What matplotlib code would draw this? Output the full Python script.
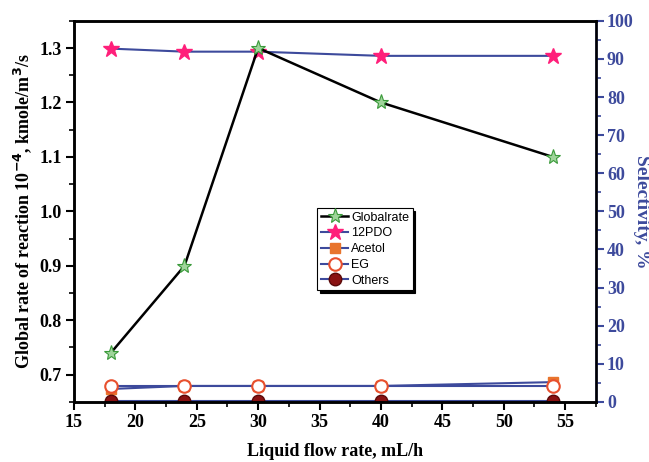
import matplotlib
matplotlib.use("Agg")
import matplotlib.pyplot as plt
from matplotlib.ticker import MultipleLocator

flow = [18, 24, 30, 40, 54]
global_rate = [0.74, 0.90, 1.30, 1.20, 1.10]
sel_12pdo = [92.7, 91.9, 91.9, 90.8, 90.8]
sel_acetol = [3.4, 4.2, 4.2, 4.2, 5.2]
sel_eg = [4.2, 4.2, 4.2, 4.2, 4.2]
sel_others = [0.3, 0.3, 0.3, 0.3, 0.3]

blue = "#3d4a9c"
serif = "Liberation Serif"

fig = plt.figure(figsize=(6.49, 4.62), dpi=100)
ax = fig.add_axes([0.114, 0.130, 0.804, 0.825])
ax2 = ax.twinx()

l1, = ax.plot(flow, global_rate, color="black", lw=1.8, marker="*", ms=11,
              mfc="#9fd49a", mec="#3a9a3a", mew=0.8, label="Globalrate", zorder=3)
l2, = ax2.plot(flow, sel_12pdo, color=blue, lw=1.5, marker="*", ms=12,
               mfc="#ff1f7a", mec="#ff1f7a", label="12PDO")
l3, = ax2.plot(flow, sel_acetol, color=blue, lw=1.5, marker="s", ms=7,
               mfc="#e8742c", mec="#e8742c", label="Acetol")
l4, = ax2.plot(flow, sel_eg, color=blue, lw=1.5, marker="o", ms=9,
               mfc="white", mec="#e8502e", mew=1.5, label="EG")
l5, = ax2.plot(flow, sel_others, color=blue, lw=1.5, marker="o", ms=9,
               mfc="#8a1212", mec="#5a0808", label="Others")

ax.set_xlim(15, 57.5)
ax.set_ylim(0.65, 1.35)
ax2.set_ylim(0, 100)

ax.xaxis.set_major_locator(MultipleLocator(5))
ax.xaxis.set_minor_locator(MultipleLocator(2.5))
ax.yaxis.set_major_locator(MultipleLocator(0.1))
ax.yaxis.set_minor_locator(MultipleLocator(0.05))
ax2.yaxis.set_major_locator(MultipleLocator(10))
ax2.yaxis.set_minor_locator(MultipleLocator(5))

for a in (ax, ax2):
    a.tick_params(which="major", direction="out", length=6, width=1.5, pad=3)
    a.tick_params(which="minor", direction="out", length=3.5, width=1.2)
ax.tick_params(labelsize=13)
ax2.tick_params(axis="y", which="both", colors=blue, labelsize=13, pad=2)

for lab in ax.get_xticklabels() + ax.get_yticklabels():
    lab.set_fontfamily(serif)
    lab.set_fontweight("bold")
for lab in ax2.get_yticklabels():
    lab.set_fontfamily(serif)
    lab.set_fontweight("bold")
    lab.set_color(blue)

for s in ax.spines.values():
    s.set_linewidth(1.8)
for s in ax2.spines.values():
    s.set_linewidth(1.8)
ax2.spines["right"].set_color(blue)

ax.set_xlabel("Liquid flow rate, mL/h", fontfamily=serif, fontweight="bold",
              fontsize=13, labelpad=8)
ax.set_ylabel("Global rate of reaction 10$^{\\mathbf{-4}}$, kmole/m$^{\\mathbf{3}}$/s",
              fontfamily=serif, fontweight="bold", fontsize=13, labelpad=4)
ax2.set_ylabel("Selectivity, %", fontfamily=serif, fontweight="bold",
               fontsize=14, color=blue, rotation=270, labelpad=12)

ax.set_zorder(ax2.get_zorder() + 1)
ax.patch.set_visible(False)

leg = ax.legend(handles=[l1, l2, l3, l4, l5], loc="upper left",
                bbox_to_anchor=(0.466, 0.509),
                prop={"family": "Liberation Sans", "size": 9},
                frameon=True, fancybox=False, shadow={"color": "black", "alpha": 1},
                handlelength=2.2, handletextpad=0.2, borderpad=0.3,
                labelspacing=0.3, borderaxespad=0)
leg.get_frame().set_edgecolor("black")
leg.get_frame().set_linewidth(0.8)

fig.savefig("out.png", dpi=100)
